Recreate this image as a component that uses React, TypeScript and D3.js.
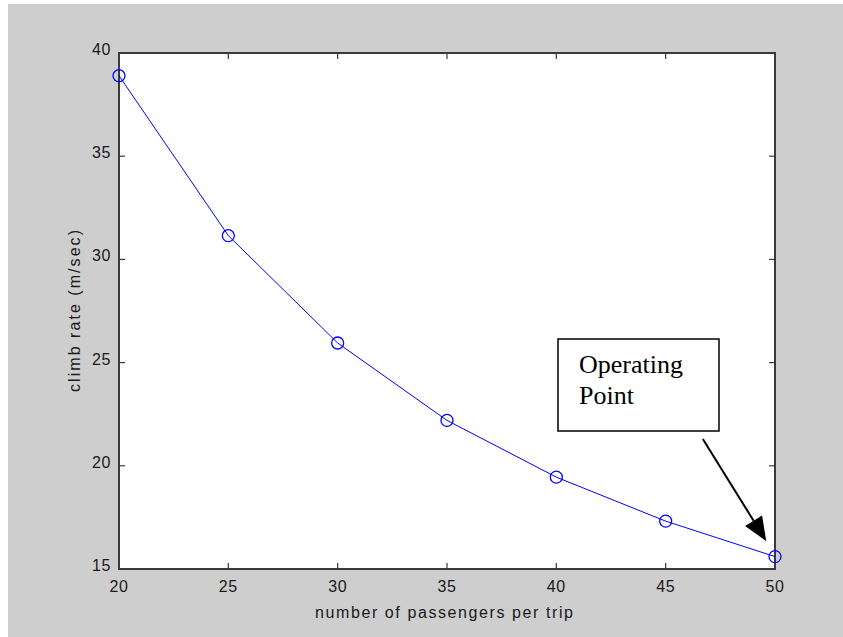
import React from "react";
import * as d3 from "d3";

// Climb rate versus passenger count
const passengers = [20, 25, 30, 35, 40, 45, 50];
const climbRate = [38.9, 31.15, 25.95, 22.2, 19.45, 17.32, 15.6];
const xTicks = [20, 25, 30, 35, 40, 45, 50];
const yTicks = [15, 20, 25, 30, 35, 40];
const noteLines = ["Operating", "Point"];

const W = 843;
const H = 637;
const plot = { left: 119, right: 775, top: 53, bottom: 569 };

export default function App() {
  const x = d3.scaleLinear().domain([20, 50]).range([plot.left, plot.right]);
  const y = d3.scaleLinear().domain([15, 40]).range([plot.bottom, plot.top]);
  const line = d3
    .line<number>()
    .x((_, i) => x(passengers[i]))
    .y((d) => y(d));

  const axisFont = "'Liberation Sans', Arial, Helvetica, sans-serif";
  const tickLen = 6;
  const frame = "#3a3a3a";

  // Annotation arrow (data coordinates)
  const a0 = [x(46.7), y(21.3)];
  const a1 = [x(49.6), y(16.35)];
  const ang = Math.atan2(a1[1] - a0[1], a1[0] - a0[0]);
  const headLen = 24;
  const headHalf = 10;
  const bx = a1[0] - headLen * Math.cos(ang);
  const by = a1[1] - headLen * Math.sin(ang);
  const px = -Math.sin(ang) * headHalf;
  const py = Math.cos(ang) * headHalf;
  const head = `M${a1[0]},${a1[1]} L${bx + px},${by + py} L${bx - px},${by - py} Z`;

  return (
    <svg
      width={W}
      height={H}
      style={{ position: "absolute", left: 0, top: 0, display: "block" }}
    >
      <rect x={0} y={0} width={W} height={H} fill="#ffffff" />
      <rect x={8} y={4} width={W - 8} height={H - 4} fill="#cecece" />
      <rect
        x={plot.left}
        y={plot.top}
        width={plot.right - plot.left}
        height={plot.bottom - plot.top}
        fill="#ffffff"
      />

      {/* ticks on all four sides, pointing inward */}
      <g stroke={frame} strokeWidth={1.2}>
        {xTicks.map((t) => (
          <g key={"xt" + t}>
            <line x1={x(t)} x2={x(t)} y1={plot.bottom} y2={plot.bottom - tickLen} />
            <line x1={x(t)} x2={x(t)} y1={plot.top} y2={plot.top + tickLen} />
          </g>
        ))}
        {yTicks.map((t) => (
          <g key={"yt" + t}>
            <line x1={plot.left} x2={plot.left + tickLen} y1={y(t)} y2={y(t)} />
            <line x1={plot.right} x2={plot.right - tickLen} y1={y(t)} y2={y(t)} />
          </g>
        ))}
      </g>

      <rect
        x={plot.left}
        y={plot.top}
        width={plot.right - plot.left}
        height={plot.bottom - plot.top}
        fill="none"
        stroke={frame}
        strokeWidth={2}
      />

      {/* tick labels */}
      <g fontFamily={axisFont} fontSize={16} fill="#1a1a1a">
        {xTicks.map((t) => (
          <text key={"xl" + t} x={x(t)} y={plot.bottom + 23} textAnchor="middle" letterSpacing={0.6}>
            {t}
          </text>
        ))}
        {yTicks.map((t) => (
          <text key={"yl" + t} x={plot.left - 8} y={y(t) + 2} textAnchor="end" letterSpacing={0.6}>
            {t}
          </text>
        ))}
      </g>

      {/* axis titles */}
      <text
        x={444}
        y={618}
        textAnchor="middle"
        fontFamily={axisFont}
        fontSize={16}
        fill="#1a1a1a"
        textLength={258}
        lengthAdjust="spacing"
      >
        number of passengers per trip
      </text>
      <text
        transform={`translate(80,${(plot.top + plot.bottom) / 2}) rotate(-90)`}
        textAnchor="middle"
        fontFamily={axisFont}
        fontSize={16}
        fill="#1a1a1a"
        textLength={162}
        lengthAdjust="spacing"
      >
        climb rate (m/sec)
      </text>

      {/* data series */}
      <path d={line(climbRate) ?? ""} fill="none" stroke="#0000ff" strokeWidth={1} />
      {climbRate.map((v, i) => (
        <circle
          key={"pt" + i}
          cx={x(passengers[i])}
          cy={y(v)}
          r={6}
          fill="none"
          stroke="#0000ff"
          strokeWidth={1.3}
        />
      ))}

      {/* annotation */}
      <rect x={558} y={339} width={161} height={92} fill="#ffffff" stroke="#000000" strokeWidth={1.5} />
      <g fontFamily="'Liberation Serif', 'Times New Roman', serif" fontSize={26} fill="#000000">
        {noteLines.map((s, i) => (
          <text key={s} x={579} y={373 + i * 31}>
            {s}
          </text>
        ))}
      </g>
      <line x1={a0[0]} y1={a0[1]} x2={bx} y2={by} stroke="#000000" strokeWidth={2} />
      <path d={head} fill="#000000" />
    </svg>
  );
}
